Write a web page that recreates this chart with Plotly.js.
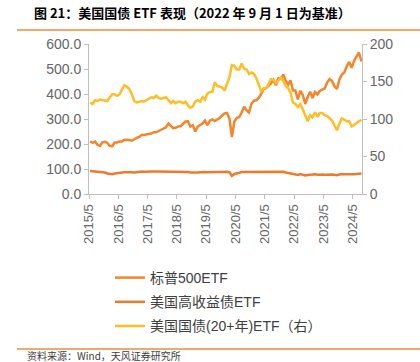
<!DOCTYPE html>
<html><head><meta charset="utf-8">
<script src="https://cdn.plot.ly/plotly-3.0.1.min.js"></script>
<style>html,body{margin:0;padding:0;background:#fff}#c{width:420px;height:362px}</style>
</head><body><div id="c"></div>
<script>
var months = [];
(function(){for(var y=2015;y<=2024;y++){for(var m=1;m<=12;m++){if(y===2015&&m<5)continue;if(y===2024&&m>8)continue;months.push(y+'-'+(m<10?'0'+m:m)+'-15');}}})();
var spy = [
211,205,210,197,192,207,209,204,
193,191,206,206,210,210,217,217,216,213,220,224,
228,236,236,238,241,242,247,247,252,257,265,267,
282,271,263,265,270,271,281,290,291,270,275,250,
270,278,282,294,275,293,298,292,297,304,314,322,
324,300,228,290,304,308,326,349,334,326,362,373,
375,385,400,420,424,432,442,456,435,463,460,478,
452,438,455,414,414,378,413,396,360,388,409,384,
408,398,412,418,422,446,460,452,430,420,458,478,
486,512,528,505,532,550,566,530];
var hyg = [
92,91,90,88,87,88,86,82,
80,79,82,84,85,86,87,87,88,87,86,88,
89,90,89,90,90,90,90,90,90,90,90,89,
89,88,87,87,87,87,88,88,88,86,86,83,
86,87,88,88,87,88,88,88,88,88,89,90,
89,87,72,80,84,85,88,88,87,87,89,90,
90,89,89,90,90,90,90,90,89,89,88,89,
86,84,84,80,80,76,80,78,74,76,78,77,
79,77,78,78,77,78,78,78,77,75,78,80,
79,80,80,79,79,80,81,82];
var tlt = [
122,120,125,124,126,125,124,124,
129,133,133,131,133,140,145,143,140,133,124,122,
123,124,123,125,127,129,128,131,128,127,128,129,
125,121,124,121,123,123,121,123,118,115,117,123,
125,123,129,126,134,136,136,149,144,143,142,138,
148,156,172,171,166,166,174,167,166,160,162,160,
154,145,137,141,141,147,153,152,148,151,155,151,
144,141,135,122,120,116,120,113,104,97,105,102,
109,103,108,108,105,104,101,98,91,85,94,101,
99,97,97,90,92,95,97,99];
var names = ['标普500ETF','美国高收益债ETF','美国国债(20+年)ETF（右）'];
var colors = ['#F5852A','#EE7B2C','#FFBE26'];

var traces = [
 {x:months,y:spy,name:names[0],type:'scatter',mode:'lines',line:{color:colors[0],width:2.5},legendgroup:'a'},
 {x:months,y:hyg,name:names[1],type:'scatter',mode:'lines',line:{color:colors[1],width:2.5},legendgroup:'b'},
 {x:months,y:tlt,name:names[2],type:'scatter',mode:'lines',line:{color:colors[2],width:2.5},yaxis:'y2',legendgroup:'c'}
];
var fnt = {family:'"Liberation Sans", Arial, sans-serif', size:13, color:'#666666'};
function px(x){return (x-89)/273;}
function py(y){return (194-y)/150;}
var layout = {
 width:420,height:362,
 margin:{l:89,r:58,t:44,b:168},
 paper_bgcolor:'#fff',plot_bgcolor:'#fff',
 font:fnt,
 showlegend:true,
 legend:{x:px(110),y:py(262),xanchor:'left',yanchor:'top',orientation:'v',traceorder:'grouped',tracegroupgap:3,
   font:{family:'"Liberation Sans", "Noto Sans CJK SC", sans-serif',size:14,color:'#404040'},bgcolor:'rgba(0,0,0,0)'},
 xaxis:{type:'date',range:['2015-05-01','2024-08-22'],tick0:'2015-05-01',dtick:'M12',tickformat:'%Y/%-m',
   tickangle:-90,showgrid:false,showline:true,linecolor:'#bfbfbf',linewidth:1,ticks:'outside',ticklen:4,tickcolor:'#bfbfbf',
   tickfont:fnt,zeroline:false,fixedrange:true},
 yaxis:{range:[0,600],dtick:100,tickformat:'.1f',showgrid:false,showline:true,linecolor:'#bfbfbf',ticks:'outside',ticklen:4,
   tickcolor:'#bfbfbf',tickfont:{family:fnt.family,size:14,color:'#666666'},zeroline:false},
 yaxis2:{range:[0,200],dtick:50,overlaying:'y',side:'right',showgrid:false,showline:true,linecolor:'#bfbfbf',ticks:'outside',ticklen:4,
   tickcolor:'#bfbfbf',tickfont:{family:fnt.family,size:14,color:'#666666'},zeroline:false},
 shapes:[
  {type:'line',xref:'paper',yref:'paper',x0:px(17),x1:px(420),y0:py(30),y1:py(30),line:{color:'#F08A3A',width:1.5}},
  {type:'line',xref:'paper',yref:'paper',x0:px(17),x1:px(420),y0:py(349),y1:py(349),line:{color:'#F08A3A',width:1.5}}
 ],
 annotations:[
  {xref:'paper',yref:'paper',x:px(32),y:py(13),xanchor:'left',yanchor:'middle',showarrow:false,
   text:'<b>图 21：美国国债 ETF 表现（2022 年 9 月 1 日为基准）</b>',
   font:{family:'"Noto Sans CJK SC", sans-serif',size:13,color:'#000'}},
  {xref:'paper',yref:'paper',x:px(25),y:py(355),xanchor:'left',yanchor:'middle',showarrow:false,
   text:'资料来源：Wind，天风证券研究所',font:{family:'"Noto Sans CJK SC", sans-serif',size:10,color:'#404040'}}
 ]
};
Plotly.newPlot('c',traces,layout,{displayModeBar:false,staticPlot:true});
</script></body></html>
